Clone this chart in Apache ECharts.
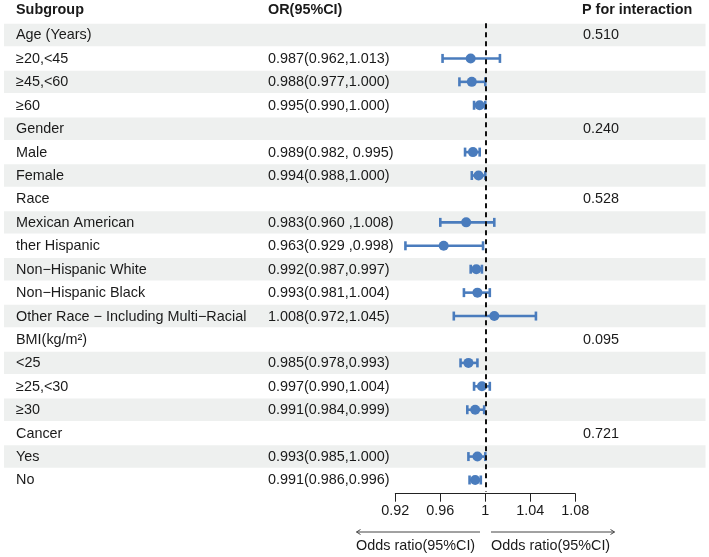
<!DOCTYPE html>
<html>
<head>
<meta charset="utf-8">
<script src="https://cdn.jsdelivr.net/npm/echarts@6/dist/echarts.min.js"></script>
<style>html,body{margin:0;padding:0;background:#fff}#c{width:709px;height:557px}</style>
</head>
<body>
<div id="c"></div>
<script>
const subgroups = ["Age (Years)","≥20,<45","≥45,<60","≥60","Gender","Male","Female","Race","Mexican American","ther Hispanic","Non−Hispanic White","Non−Hispanic Black","Other Race − Including Multi−Racial","BMI(kg/m²)","<25","≥25,<30","≥30","Cancer","Yes","No"];
const orText = ["","0.987(0.962,1.013)","0.988(0.977,1.000)","0.995(0.990,1.000)","","0.989(0.982, 0.995)","0.994(0.988,1.000)","","0.983(0.960 ,1.008)","0.963(0.929 ,0.998)","0.992(0.987,0.997)","0.993(0.981,1.004)","1.008(0.972,1.045)","","0.985(0.978,0.993)","0.997(0.990,1.004)","0.991(0.984,0.999)","","0.993(0.985,1.000)","0.991(0.986,0.996)"];
const pText = ["0.510","","","","0.240","","","0.528","","","","","","0.095","","","","0.721","",""];
const orVal = [null,0.987,0.988,0.995,null,0.989,0.994,null,0.983,0.963,0.992,0.993,1.008,null,0.985,0.997,0.991,null,0.993,0.991];
const loVal = [null,0.962,0.977,0.990,null,0.982,0.988,null,0.960,0.929,0.987,0.981,0.972,null,0.978,0.990,0.984,null,0.985,0.986];
const hiVal = [null,1.013,1.000,1.000,null,0.995,1.000,null,1.008,0.998,0.997,1.004,1.045,null,0.993,1.004,0.999,null,1.000,0.996];
const xTicks = [0.92, 0.96, 1, 1.04, 1.08];
const refLine = 1;
const headers = ["Subgroup", "OR(95%CI)", "P for interaction"];
const axisTitle = "Odds ratio(95%CI)";

const FONT = "'Liberation Sans', Arial, sans-serif";
const FS = 14.4;
const TXT = '#1a1a1a';
const BLUE = '#4a7cbd';
const BAND = '#eef0ef';
const COL_X = [16, 268, 583];

const chart = echarts.init(document.getElementById('c'), null, {renderer: 'canvas'});

const bandData = subgroups.map((s, i) => [refLine, i]);
const barData = [];
orVal.forEach((v, i) => { if (v != null) barData.push([v, i, loVal[i], hiVal[i]]); });

const option = {
  animation: false,
  backgroundColor: '#fff',
  grid: {left: 395.3, right: 133.7, top: 23.3, bottom: 65.3, containLabel: false},
  xAxis: {
    type: 'value', min: xTicks[0], max: xTicks[xTicks.length - 1], interval: 0.04,
    offset: 2,
    axisLine: {show: true, onZero: false, lineStyle: {color: '#222', width: 1}},
    axisTick: {show: true, length: 8, lineStyle: {color: '#222', width: 1}},
    axisLabel: {color: TXT, fontSize: FS, fontFamily: FONT, margin: 10,
      formatter: v => String(+(+v).toFixed(2))},
    splitLine: {show: false}
  },
  yAxis: {
    type: 'category', inverse: true, data: subgroups,
    axisLine: {show: false}, axisTick: {show: false}, axisLabel: {show: false}, splitLine: {show: false}
  },
  series: [
    {
      type: 'custom', z: 1, clip: false, silent: true,
      data: bandData,
      renderItem: function (params, api) {
        const i = api.value(1);
        const y = api.coord([refLine, i])[1];
        const h = api.size([0, 1])[1];
        const children = [];
        if (i % 2 === 0) {
          children.push({type: 'rect', shape: {x: 4, y: y - h / 2 + 0.5, width: 701.5, height: h - 1}, style: {fill: BAND}});
        }
        const texts = [subgroups[i], orText[i], pText[i]];
        texts.forEach((t, k) => {
          if (t) children.push({type: 'text', style: {text: t, x: COL_X[k], y: y + 0.5, fill: TXT, font: FS + 'px ' + FONT, textAlign: 'left', textVerticalAlign: 'middle'}});
        });
        return {type: 'group', children: children};
      }
    },
    {
      type: 'line', z: 2, data: [], silent: true,
      markLine: {
        silent: true, symbol: ['none', 'none'], label: {show: false},
        lineStyle: {color: '#111', width: 2, type: [5, 4]},
        data: [{xAxis: refLine}]
      }
    },
    {
      type: 'custom', z: 3, clip: false, silent: true,
      data: barData,
      renderItem: function (params, api) {
        const i = api.value(1);
        const p = api.coord([api.value(0), i]);
        const pl = api.coord([api.value(2), i]);
        const ph = api.coord([api.value(3), i]);
        const cap = 4.5;
        const ls = {stroke: BLUE, lineWidth: 2.6};
        return {type: 'group', children: [
          {type: 'line', shape: {x1: pl[0], y1: p[1], x2: ph[0], y2: p[1]}, style: ls},
          {type: 'line', shape: {x1: pl[0], y1: p[1] - cap, x2: pl[0], y2: p[1] + cap}, style: ls},
          {type: 'line', shape: {x1: ph[0], y1: p[1] - cap, x2: ph[0], y2: p[1] + cap}, style: ls},
          {type: 'circle', shape: {cx: p[0], cy: p[1], r: 5}, style: {fill: BLUE}}
        ]};
      }
    }
  ],
  graphic: [
    {type: 'text', left: COL_X[0], top: 3.5, style: {text: headers[0], font: 'bold ' + FS + 'px ' + FONT, fill: TXT}},
    {type: 'text', left: COL_X[1], top: 3.5, style: {text: headers[1], font: 'bold ' + FS + 'px ' + FONT, fill: TXT}},
    {type: 'text', left: COL_X[2] - 1, top: 3.5, style: {text: headers[2], font: 'bold ' + FS + 'px ' + FONT, fill: TXT}},
    {type: 'polyline', shape: {points: [[480, 532], [356.5, 532]]}, style: {stroke: '#444', lineWidth: 1, fill: null}},
    {type: 'polyline', shape: {points: [[360.5, 529.5], [356.5, 532], [360.5, 534.5]]}, style: {stroke: '#444', lineWidth: 1, fill: null}},
    {type: 'polyline', shape: {points: [[491, 532], [614.5, 532]]}, style: {stroke: '#444', lineWidth: 1, fill: null}},
    {type: 'polyline', shape: {points: [[610.5, 529.5], [614.5, 532], [610.5, 534.5]]}, style: {stroke: '#444', lineWidth: 1, fill: null}},
    {type: 'text', left: 356, top: 539, style: {text: axisTitle, font: FS + 'px ' + FONT, fill: TXT}},
    {type: 'text', left: 491, top: 539, style: {text: axisTitle, font: FS + 'px ' + FONT, fill: TXT}}
  ]
};
chart.setOption(option);
</script>
</body>
</html>
